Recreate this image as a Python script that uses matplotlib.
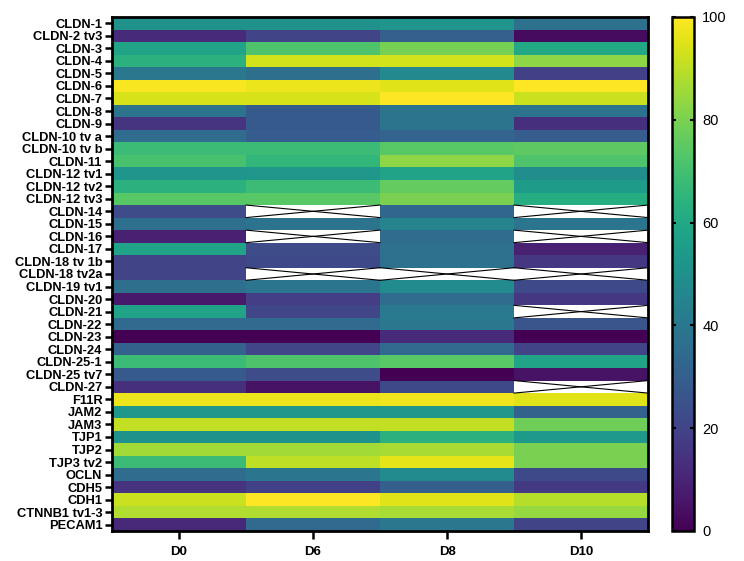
import numpy as np
import matplotlib
matplotlib.use("Agg")
import matplotlib.pyplot as plt

plt.rcParams['font.family'] = ['Liberation Sans', 'DejaVu Sans']

genes = ["CLDN-1", "CLDN-2 tv3", "CLDN-3", "CLDN-4", "CLDN-5", "CLDN-6", "CLDN-7",
         "CLDN-8", "CLDN-9", "CLDN-10 tv a", "CLDN-10 tv b", "CLDN-11", "CLDN-12 tv1",
         "CLDN-12 tv2", "CLDN-12 tv3", "CLDN-14", "CLDN-15", "CLDN-16", "CLDN-17",
         "CLDN-18 tv 1b", "CLDN-18 tv2a", "CLDN-19 tv1", "CLDN-20", "CLDN-21", "CLDN-22",
         "CLDN-23", "CLDN-24", "CLDN-25-1", "CLDN-25 tv7", "CLDN-27", "F11R", "JAM2",
         "JAM3", "TJP1", "TJP2", "TJP3 tv2", "OCLN", "CDH5", "CDH1", "CTNNB1 tv1-3", "PECAM1"]
days = ["D0", "D6", "D8", "D10"]
nan = np.nan
D0 = [50, 12, 58, 64, 40, 99, 94, 38, 15, 35, 68, 71, 52, 64, 74, 23, 36, 9, 58, 20, 20, 36, 7, 58, 34, 0, 31, 68, 28, 14, 97, 53, 91, 51, 86, 68, 35, 15, 92, 88, 11]
D6 = [50, 20, 72, 93, 36, 97, 94, 28, 28, 29, 68, 66, 53, 68, 74, nan, 38, nan, 23, 22, nan, 39, 18, 21, 34, 0, 21, 72, 23, 5, 97, 53, 91, 51, 86, 90, 39, 19, 100, 88, 34]
D8 = [52, 30, 79, 93, 47, 95, 100, 38, 38, 32, 74, 83, 58, 76, 80, 33, 45, 35, 37, 37, nan, 48, 35, 41, 40, 12, 34, 74, 0, 22, 98, 53, 91, 64, 87, 96, 48, 30, 95, 87, 40]
D10 = [37, 3, 60, 83, 19, 100, 92, 38, 14, 29, 75, 72, 49, 55, 62, nan, 39, nan, 9, 16, nan, 22, 16, nan, 26, 0, 20, 58, 5, nan, 95, 31, 78, 54, 80, 80, 22, 17, 89, 84, 20]

data = np.array([D0, D6, D8, D10], dtype=float).T
masked = np.ma.masked_invalid(data)

fig = plt.figure(figsize=(7.44, 5.61), dpi=100)
W, H = 744, 561
ax = fig.add_axes([112 / W, 1 - 531 / H, (648 - 112) / W, (531 - 17) / H])
cax = fig.add_axes([672 / W, 1 - 531 / H, (694 - 672) / W, (531 - 17) / H])

cmap = plt.get_cmap('viridis').copy()
cmap.set_bad('white')
mesh = ax.pcolormesh(np.arange(len(days) + 1), np.arange(len(genes) + 1), masked,
                     cmap=cmap, vmin=0, vmax=100)
ax.set_xlim(0, len(days))
ax.set_ylim(len(genes), 0)

# X marks for missing cells
for i in range(len(genes)):
    for j in range(len(days)):
        if np.isnan(data[i, j]):
            ax.plot([j, j + 1], [i, i + 1], color='black', lw=0.8)
            ax.plot([j, j + 1], [i + 1, i], color='black', lw=0.8)

ax.set_xticks(np.arange(len(days)) + 0.5)
ax.set_xticklabels(days, fontweight='bold', fontsize=9.5)
ax.set_yticks(np.arange(len(genes)) + 0.5)
ax.set_yticklabels(genes, fontweight='bold', fontsize=9.3)
ax.tick_params(axis='x', length=6, width=1.8, pad=5)
ax.tick_params(axis='y', length=5, width=1.8, pad=2)
for s in ax.spines.values():
    s.set_linewidth(2)

cb = fig.colorbar(mesh, cax=cax)
cb.set_ticks([0, 20, 40, 60, 80, 100])
cb.outline.set_linewidth(1.8)
cax.tick_params(axis='y', direction='in', length=3, width=1.5, labelsize=10.5, pad=6,
                left=True, right=True)

fig.savefig('out.png', dpi=100)
